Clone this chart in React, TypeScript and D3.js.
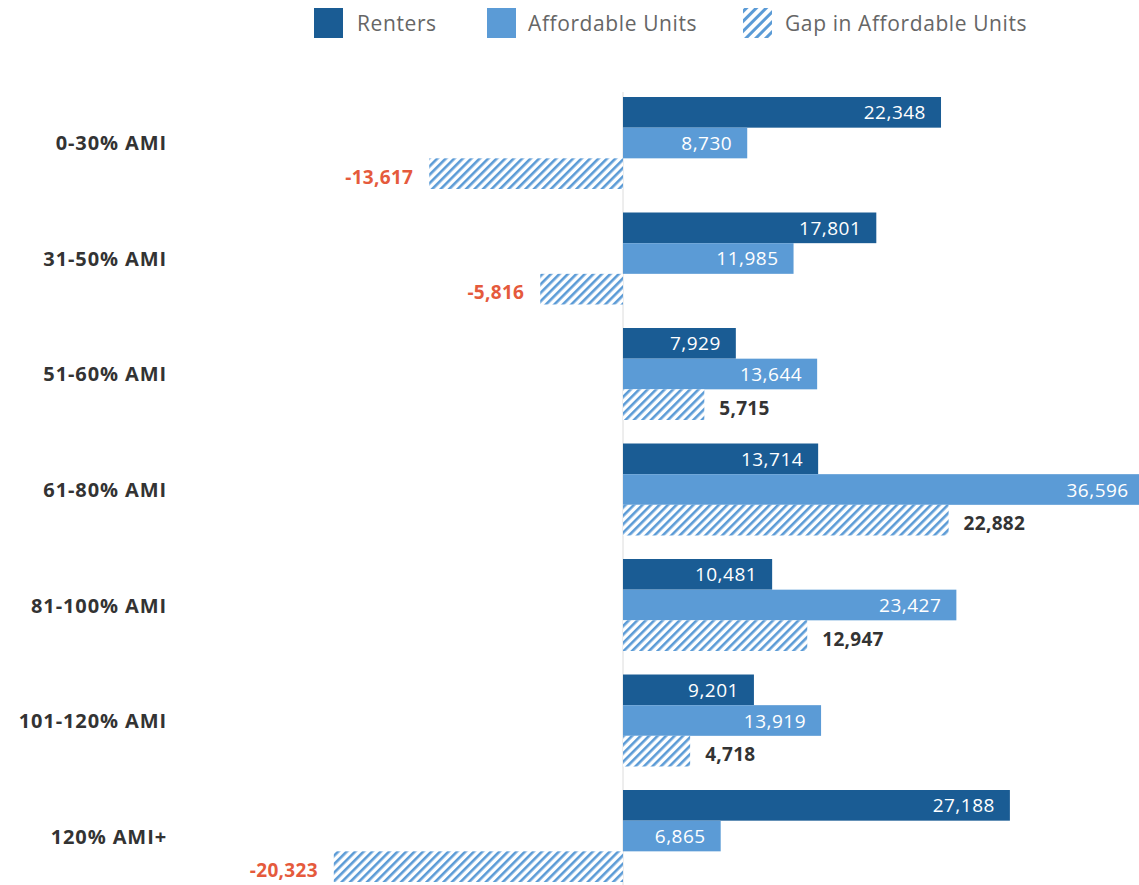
import React from "react";
import * as d3 from "d3";

const categories = ["0-30% AMI", "31-50% AMI", "51-60% AMI", "61-80% AMI", "81-100% AMI", "101-120% AMI", "120% AMI+"];
const renters = [22348, 17801, 7929, 13714, 10481, 9201, 27188];
const affordable = [8730, 11985, 13644, 36596, 23427, 13919, 6865];
const gap = [-13617, -5816, 5715, 22882, 12947, 4718, -20323];
const seriesNames = ["Renters", "Affordable Units", "Gap in Affordable Units"];

const DARK = "#1a5c94";
const LIGHT = "#5b9bd6";
const RED = "#e55a3c";
const FONT = "'Open Sans', sans-serif";

export default function App() {
  const W = 1139, H = 885;
  const x = d3.scaleLinear().domain([0, 10000]).range([623, 623 + 142.3]);
  const y = d3.scaleBand<string>().domain(categories).range([97, 882]).paddingInner(0.2035).paddingOuter(0);
  const inner = d3.scaleBand<string>().domain(seriesNames).range([0, y.bandwidth()]).padding(0);
  const f = d3.format(",");
  const fmt = (v: number) => f(v).replace("\u2212", "-");
  const series = [renters, affordable, gap];
  const fills = [DARK, LIGHT, "url(#hatch)"];

  const legendItems = [
    { name: seriesNames[0], fill: DARK, x: 314, tx: 357 },
    { name: seriesNames[1], fill: LIGHT, x: 487, tx: 528 },
    { name: seriesNames[2], fill: "url(#hatchL)", x: 743, tx: 785 },
  ];

  return (
    <svg width={W} height={H} style={{ position: "absolute", left: 0, top: 0, background: "#fff" }} fontFamily={FONT}>
      <defs>
        <pattern id="hatch" patternUnits="userSpaceOnUse" width="6" height="6" patternTransform="rotate(45)">
          <rect width="6" height="6" fill="#fff" />
          <rect x="0" y="0" width="2.6" height="6" fill={LIGHT} />
        </pattern>
        <pattern id="hatchL" patternUnits="userSpaceOnUse" width="7" height="7" patternTransform="rotate(45)">
          <rect width="7" height="7" fill="#fff" />
          <rect x="0" y="0" width="3" height="7" fill={LIGHT} />
        </pattern>
      </defs>
      {legendItems.map((l) => (
        <g key={l.name}>
          <rect x={l.x} y={8} width={29} height={30} fill={l.fill} />
          <text x={l.tx} y={23} dominantBaseline="central" fontSize={21} letterSpacing={0.6} fill="#666">{l.name}</text>
        </g>
      ))}
      <line x1={x(0)} x2={x(0)} y1={92} y2={H} stroke="#dcdcdc" strokeWidth={1} />
      {categories.map((c, i) => {
        const y0 = y(c)!;
        return (
          <g key={c}>
            <text x={167} y={y0 + y.bandwidth() / 2} textAnchor="end" dominantBaseline="central" fontSize={20} letterSpacing={0.9} fontWeight="bold" fill="#333">{c}</text>
            {series.map((s, j) => {
              const v = s[i];
              const by = y0 + inner(seriesNames[j])!;
              const bh = inner.bandwidth();
              const x0 = Math.min(x(0), x(v));
              const w = Math.abs(x(v) - x(0));
              const cy = by + bh / 2;
              let label;
              if (j < 2) {
                label = <text x={x(v) - 15} y={cy} textAnchor="end" dominantBaseline="central" fontSize={19} letterSpacing={0.5} fill="#fff">{fmt(v)}</text>;
              } else if (v < 0) {
                label = <text x={x(v) - 16} y={cy + 3} textAnchor="end" dominantBaseline="central" fontSize={19} letterSpacing={0.3} fontWeight="bold" fill={RED}>{fmt(v)}</text>;
              } else {
                label = <text x={x(v) + 15} y={cy + 3} textAnchor="start" dominantBaseline="central" fontSize={19} letterSpacing={0.3} fontWeight="bold" fill="#333">{fmt(v)}</text>;
              }
              return (
                <g key={j}>
                  <rect x={x0} y={by} width={w} height={bh} fill={fills[j]} />
                  {label}
                </g>
              );
            })}
          </g>
        );
      })}
    </svg>
  );
}
